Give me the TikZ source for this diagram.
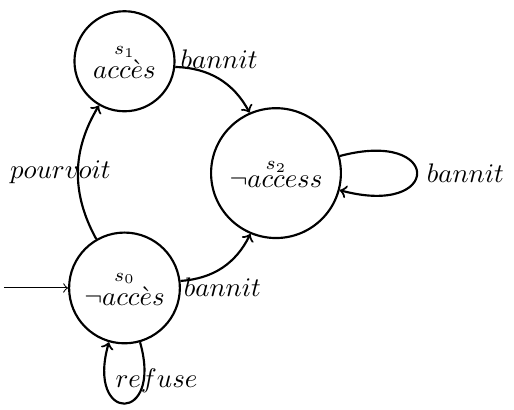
\documentclass[tikz,border=0pt]{standalone}
\usepackage{amsmath, amssymb}
\usepackage{tikz}
\usetikzlibrary{positioning}

\tikzset{
  statenode/.style={draw, circle, thick, align=center, inner sep=1pt},
  trans/.style={->, thick}
}

\begin{document}
\begin{tikzpicture}
\useasboundingbox (0,0) rectangle (6.73,-5.36);
\node (s0) [statenode, minimum size=1.45cm] at (1.63,-3.77) {$\overset{s_0}{\neg acc\grave{e}s}$};
\node (s1) [statenode, minimum size=1.31cm, above=1.56cm of s0] {$\overset{s_1}{acc\grave{e}s}$};
\node (s2) [statenode, minimum size=1.70cm, above right=0.37cm and 0.85cm of s0] {$\overset{s_2}{\neg access}$};
\coordinate [left=0.84cm of s0] (init);

\draw[->] (init) -- (s0);
\draw[trans] (s0) to[bend left] node[midway, xshift=-0.23cm] {$pourvoit$} (s1);
\draw[trans] (s1) to[bend left] node[midway, above] {$bannit$} (s2);
\draw[trans] (s0) to[bend right] node[midway, below] {$bannit$} (s2);
\draw[trans] (s2) to[loop right] node[midway, right] {$bannit$} (s2);
\draw[trans] (s0) to[out=-74, in=-106, every loop/.style={looseness=7}, loop] node[midway, xshift=0.42cm, yshift=0.29cm] {$refuse$} (s0);
\end{tikzpicture}
\end{document}
